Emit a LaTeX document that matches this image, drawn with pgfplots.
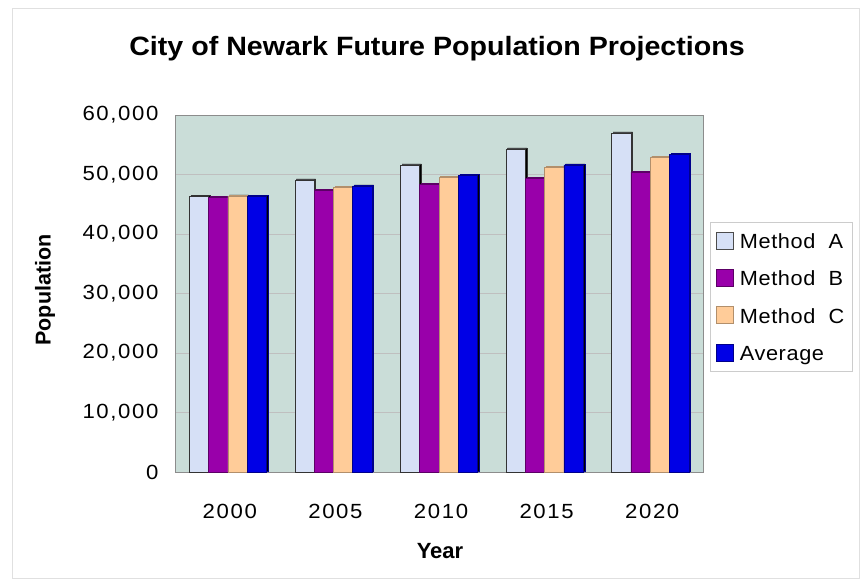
\documentclass[border=0pt]{standalone}
\usepackage{pgfplots}
\pgfplotsset{compat=1.18}
\usepackage{fontspec}
\setmainfont{Liberation Sans}
\newfontfamily\tickfont[LetterSpace=8, FakeStretch=1.08]{Liberation Sans}
\newfontfamily\legfont[LetterSpace=3, FakeStretch=1.06]{Liberation Sans}
\newfontfamily\titlefont[FakeStretch=1.08]{Liberation Sans}
\definecolor{plotbg}{RGB}{202,221,216}
\definecolor{cA}{RGB}{214,224,246}
\definecolor{cB}{RGB}{153,0,170}
\definecolor{cC}{RGB}{255,204,153}
\definecolor{cD}{RGB}{0,0,230}
\pgfplotstableread{
x A B C D
0 46300 46200 46400 46300
1 49100 47300 47900 48100
2 51600 48300 49500 49800
3 54300 49300 51200 51600
4 57000 50400 52900 53400
}\datatable
\begin{document}
\begin{tikzpicture}[x=1pt,y=1pt]
\path[use as bounding box] (0,0) rectangle (860,582);
\draw[black!12, line width=1pt] (12,4) rectangle (859,573);
\begin{axis}[
  at={(175pt,110pt)}, anchor=south west,
  scale only axis, width=528pt, height=357pt,
  xmin=-0.5, xmax=4.5, ymin=0, ymax=60000,
  ybar=0pt, bar width=19.3pt,
  axis background/.style={fill=plotbg},
  axis line style={black!45},
  xtick=data, xticklabels={2000,2005,2010,2015,2020},
  ytick={0,10000,...,60000},
  ymajorgrids, major grid style={black!25, line width=0.6pt},
  tick style={draw=none},
  scaled y ticks=false,
  /pgf/number format/.cd, 1000 sep={,}, assume math mode=true,
  /pgfplots/.cd,
  yticklabel style={font=\tickfont\fontsize{20.5}{24}\selectfont, xshift=-13pt},
  xticklabel style={font=\tickfont\fontsize{20.5}{24}\selectfont, yshift=-24pt, xshift=2pt},
  legend style={at={(1.013,0.700)}, anchor=north west, draw=black!20, line width=0.8pt,
    font=\legfont\fontsize{20.5}{24}\selectfont, row sep=19pt, column sep=4pt,
    inner xsep=6pt, inner ysep=9pt,
    cells={anchor=west}, nodes={inner xsep=2pt, inner ysep=0pt}},
  legend image code/.code={\draw[#1, line width=0.6pt] (0pt,-7pt) rectangle (17pt,10pt);},
  shadowbar/.style={line width=0.5pt, forget plot,
    preaction={fill=black, transform canvas={xshift=1.6pt, yshift=1pt}}},
]
\addplot[fill=cA, draw=black!80, shadowbar, bar shift=-28.95pt] table[x=x,y=A]{\datatable};
\addplot[fill=cB, draw=cB!60!black, shadowbar, bar shift=-9.65pt] table[x=x,y=B]{\datatable};
\addplot[fill=cC, draw=cC!70!black, shadowbar, bar shift=9.65pt] table[x=x,y=C]{\datatable};
\addplot[fill=cD, draw=cD!60!black, shadowbar, bar shift=28.95pt] table[x=x,y=D]{\datatable};
\addlegendimage{fill=cA, draw=black!70}
\addlegendimage{fill=cB, draw=cB!60!black}
\addlegendimage{fill=cC, draw=cC!70!black}
\addlegendimage{fill=cD, draw=cD!60!black}
\legend{Method\ \ A, Method\ \ B, Method\ \ C, Average}
\end{axis}
\node[font=\titlefont\bfseries\fontsize{26.5}{31}\selectfont] at (437,533) {City of Newark Future Population Projections};
\node[font=\bfseries\fontsize{22}{26}\selectfont] at (440,31) {Year};
\node[font=\bfseries\fontsize{21.5}{26}\selectfont, rotate=90] at (45,292) {Population};
\end{tikzpicture}
\end{document}
